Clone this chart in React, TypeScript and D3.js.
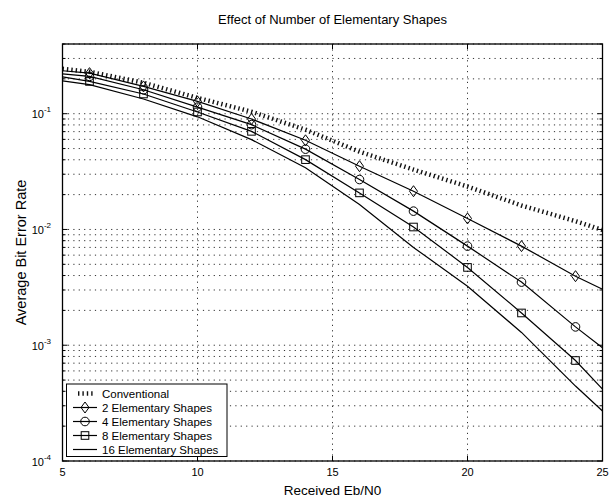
import React from "react";
import * as d3 from "d3";

const snr = [5, 6, 8, 10, 12, 14, 16, 18, 20, 22, 24, 25];
const markerSnr = [6, 8, 10, 12, 14, 16, 18, 20, 22, 24];

const conventional = [0.244, 0.23, 0.185, 0.137, 0.104, 0.0727, 0.047, 0.0329, 0.0235, 0.0161, 0.0118, 0.0099];
const shapes2 = [0.235, 0.224, 0.172, 0.1276, 0.09, 0.0589, 0.0352, 0.0214, 0.01245, 0.00718, 0.00395, 0.00304];
const shapes4 = [0.221, 0.21, 0.161, 0.114, 0.0804, 0.0494, 0.027, 0.0144, 0.00718, 0.00351, 0.00144, 0.00095];
const shapes8 = [0.208, 0.19, 0.148, 0.1035, 0.0704, 0.0401, 0.0207, 0.0105, 0.0047, 0.0019, 0.000738, 0.000418];
const shapes16 = [0.192, 0.178, 0.134, 0.094, 0.0597, 0.0342, 0.0164, 0.007, 0.00323, 0.00129, 0.000444, 0.00027];

const xTicks = [5, 10, 15, 20, 25];
const xGrid = [10, 15, 20];
const yDecades = [1e-4, 1e-3, 1e-2, 1e-1];
const yDecadeExps = ["-4", "-3", "-2", "-1"];

const title = "Effect of Number of Elementary Shapes";
const xLabel = "Received Eb/N0";
const yLabel = "Average Bit Error Rate";
const legendLabels = ["Conventional", "2 Elementary Shapes", "4 Elementary Shapes", "8 Elementary Shapes", "16 Elementary Shapes"];

const W = 614, H = 501;
const L = 62.5, R = 602.5, T = 44, B = 461;
const FONT = "'Liberation Sans', Arial, Helvetica, sans-serif";

function marker(kind: string, cx: number, cy: number, key: string) {
  const common = { fill: "none", stroke: "#000", strokeWidth: 1 };
  if (kind === "diamond")
    return <path key={key} d={`M${cx},${cy - 5.5}L${cx + 4},${cy}L${cx},${cy + 5.5}L${cx - 4},${cy}Z`} {...common} />;
  if (kind === "circle") return <circle key={key} cx={cx} cy={cy} r={4.3} {...common} />;
  if (kind === "square") return <rect key={key} x={cx - 3.8} y={cy - 3.8} width={7.6} height={7.6} {...common} />;
  return null;
}

export default function App() {
  const x = d3.scaleLinear().domain([5, 25]).range([L, R]);
  const y = d3.scaleLog().domain([1e-4, 0.4]).range([B, T]);
  const line = d3
    .line<number>()
    .x((_, i) => x(snr[i]))
    .y((d) => y(d));

  const minorVals: number[] = [];
  for (let e = -4; e <= -1; e++) {
    for (let k = 1; k <= 9; k++) {
      const v = k * Math.pow(10, e);
      if (v >= 1e-4 && v <= 0.4 + 1e-9) minorVals.push(v);
    }
  }

  const series = [
    { data: shapes2, m: "diamond" },
    { data: shapes4, m: "circle" },
    { data: shapes8, m: "square" },
    { data: shapes16, m: "" },
  ];

  const legX = 66.5, legY = 384, legW = 160.5, legH = 72.5;
  const legRow = (i: number) => legY + 9.5 + i * 14;

  return (
    <svg width={W} height={H} style={{ position: "absolute", left: 0, top: 0, background: "#fff" }} fontFamily={FONT}>
      <rect x={0} y={0} width={W} height={H} fill="#fff" />
      {/* grid */}
      {minorVals.map((v, i) => (
        <line key={"hg" + i} x1={L} x2={R} y1={y(v)} y2={y(v)} stroke="#333" strokeWidth={1} strokeDasharray="1.2,4.2" />
      ))}
      {xGrid.map((v) => (
        <line key={"vg" + v} x1={x(v)} x2={x(v)} y1={T} y2={B} stroke="#333" strokeWidth={1} strokeDasharray="1.2,4.2" />
      ))}
      {/* ticks */}
      {minorVals.map((v, i) => {
        const len = yDecades.includes(v) ? 5 : 3;
        return (
          <g key={"yt" + i}>
            <line x1={L} x2={L + len} y1={y(v)} y2={y(v)} stroke="#000" />
            <line x1={R} x2={R - len} y1={y(v)} y2={y(v)} stroke="#000" />
          </g>
        );
      })}
      {xTicks.map((v) => (
        <g key={"xt" + v}>
          <line x1={x(v)} x2={x(v)} y1={B} y2={B - 5} stroke="#000" />
          <line x1={x(v)} x2={x(v)} y1={T} y2={T + 5} stroke="#000" />
        </g>
      ))}
      {/* curves */}
      <path d={line(conventional) || ""} fill="none" stroke="#111" strokeWidth={4.5} strokeDasharray="1.4,3" />
      {series.map((s, si) => (
        <g key={"s" + si}>
          <path d={line(s.data) || ""} fill="none" stroke="#000" strokeWidth={1.2} />
          {s.m &&
            markerSnr.map((sv) => {
              const idx = snr.indexOf(sv);
              return marker(s.m, x(sv), y(s.data[idx]), `m${si}-${sv}`);
            })}
        </g>
      ))}
      {/* frame */}
      <rect x={L} y={T} width={R - L} height={B - T} fill="none" stroke="#000" strokeWidth={1.3} />
      {/* tick labels */}
      {xTicks.map((v) => (
        <text key={"xl" + v} x={x(v)} y={476} fontSize={11} textAnchor="middle" fill="#000">
          {v}
        </text>
      ))}
      {yDecades.map((v, i) => (
        <text key={"yl" + i} x={51} y={y(v) + 4.5} fontSize={11} textAnchor="end" fill="#000">
          10
          <tspan fontSize={8} dy={-6}>
            {yDecadeExps[i]}
          </tspan>
        </text>
      ))}
      {/* title & labels */}
      <text x={(L + R) / 2} y={24} fontSize={13} textAnchor="middle" fill="#000">
        {title}
      </text>
      <text x={(L + R) / 2} y={495} fontSize={13.5} textAnchor="middle" fill="#000">
        {xLabel}
      </text>
      <text transform={`translate(26,${(T + B) / 2}) rotate(-90)`} fontSize={14.5} textAnchor="middle" fill="#000">
        {yLabel}
      </text>
      {/* legend */}
      <rect x={legX} y={legY} width={legW} height={legH} fill="#fff" stroke="#000" strokeWidth={1} />
      {legendLabels.map((lab, i) => {
        const cy = legRow(i);
        const x1 = 73, x2 = 97;
        let sym: React.ReactNode;
        if (i === 0)
          sym = <line x1={x1 + 5} x2={x2 - 3} y1={cy} y2={cy} stroke="#111" strokeWidth={4.5} strokeDasharray="1.4,3" />;
        else {
          const m = series[i - 1].m;
          sym = (
            <g>
              <line x1={x1} x2={x2} y1={cy} y2={cy} stroke="#000" strokeWidth={1.2} />
              {m && marker(m, (x1 + x2) / 2, cy, "lm" + i)}
            </g>
          );
        }
        return (
          <g key={"lg" + i}>
            {sym}
            <text x={102} y={cy + 4} fontSize={11.5} fill="#000">
              {lab}
            </text>
          </g>
        );
      })}
    </svg>
  );
}
